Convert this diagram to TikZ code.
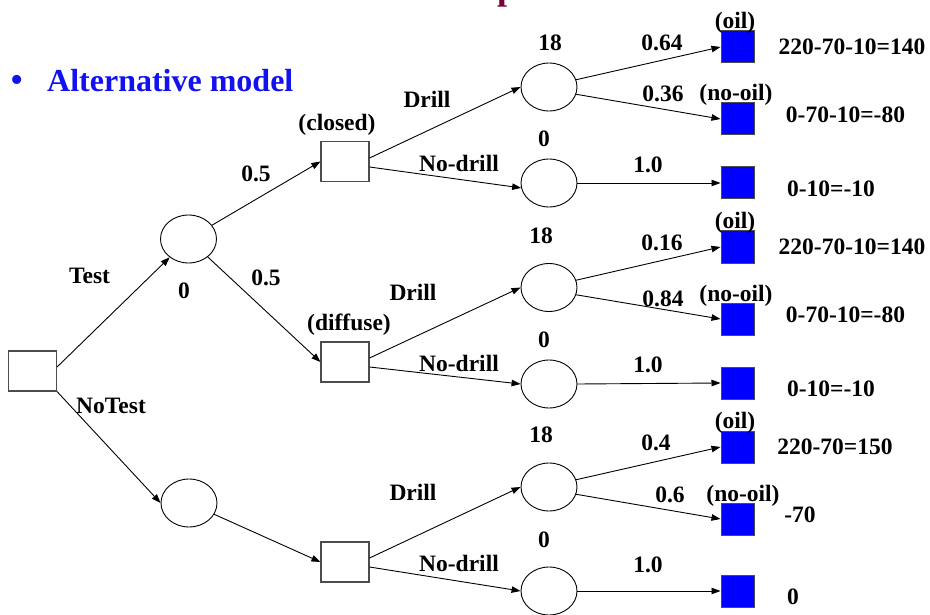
\documentclass[tikz,border=0pt]{standalone}
\usepackage{fontspec}
\setmainfont{Liberation Serif}
\usetikzlibrary{positioning, arrows.meta, shapes.geometric}

\definecolor{leafblue}{RGB}{0,0,255}
\definecolor{headblue}{RGB}{18,18,240}
\definecolor{headplum}{RGB}{120,0,60}

\begin{document}
\begin{tikzpicture}[
    x=1pt, y=-1pt,
    >={Triangle[length=9pt, width=6.5pt]},
    every node/.style={font=\fontsize{23.5}{26}\selectfont\bfseries, inner sep=0pt},
    decbox/.style={draw=black!70, line width=1.1pt, minimum width=48pt, minimum height=40pt},
    chance/.style={draw, ellipse, line width=0.9pt, minimum width=56pt, minimum height=48pt},
    leaf/.style={draw=black!70, line width=1pt, fill=leafblue, minimum width=33pt, minimum height=32pt},
    arr/.style={->, line width=0.9pt},
    head/.style={font=\fontsize{32}{36}\selectfont\bfseries, text=headblue},
]
\useasboundingbox (0,0) rectangle (930,615);

% ---- Heading ----
\node[font=\fontsize{36}{36}\selectfont\bfseries, text=headplum, anchor=base west] (heading) at (497,0) {p};
\node[head, font=\fontsize{38}{38}\selectfont, anchor=base west] (bullet) at (10,93) {\textbullet};
\node[head, anchor=base west] (model) at (47,92) {Alternative model};

% ---- Test / NoTest ----
\node[decbox] (root) at (32.5,371) {};
\node[chance] (test) at (188.5,239) {};
\node[chance] (notest) at (189,503) {};

\draw[arr] ([yshift=4pt]root.east) -- (test);
\draw[arr] (root.south east) -- (notest.west);

\node (ltest) at (89.5,276) {Test};
\node (lnotest) at (111,406) {NoTest};
\node (vtest) at (184,291) {0};

% ---- Survey result ----
\node[decbox] (closed) at (345,161.5) {};
\node[decbox] (diffuse) at (345,362) {};
\node[decbox] (direct) at (345,562) {};

\draw[arr] (test) -- (closed.west);
\draw[arr] (test) -- (diffuse.west);
\draw[arr] (notest) -- (direct.west);

\node (lclosed) at (337,125) {(closed)};
\node (ldiffuse) at (349,325) {(diffuse)};
\node (pclosed) at (256,174) {0.5};
\node (pdiffuse) at (266,278) {0.5};

% ---- Drill / No-drill ----
\node[chance] (drillA) at (549,87) {};
\node[chance] (stopA) at (549,183) {};
\node[chance] (drillB) at (549,287.5) {};
\node[chance] (stopB) at (549,384) {};
\node[chance] (drillC) at (549,487) {};
\node[chance] (stopC) at (549,591) {};

\draw[arr] ([yshift=3.5pt]closed.east) -- (drillA.west);
\draw[arr] ([yshift=-5.5pt]closed.east) -- (stopA.190);
\draw[arr] ([yshift=4pt]diffuse.east) -- (drillB.west);
\draw[arr] ([yshift=-5pt]diffuse.east) -- (stopB.west);
\draw[arr] ([yshift=4pt]direct.east) -- (drillC.west);
\draw[arr] ([yshift=-5pt]direct.east) -- (stopC.west);

\node (ldrillA) at (427,99) {Drill};
\node (lstopA) at (459,163) {No-drill};
\node (ldrillB) at (413,292) {Drill};
\node (lstopB) at (459,363) {No-drill};
\node (ldrillC) at (413,492) {Drill};
\node (lstopC) at (459,563) {No-drill};

\node (vdrillA) at (550,43) {18};
\node (vstopA) at (544,139) {0};
\node (vdrillB) at (541,236) {18};
\node (vstopB) at (544,340) {0};
\node (vdrillC) at (541,435) {18};
\node (vstopC) at (544,540) {0};

% ---- Outcomes ----
\node[leaf] (oilA) at (737.5,47) {};
\node[leaf] (dryA) at (737.5,119) {};
\node[leaf] (endA) at (737.5,183) {};
\node[leaf] (oilB) at (737.5,247) {};
\node[leaf] (dryB) at (737.5,319) {};
\node[leaf] (endB) at (737.5,383) {};
\node[leaf] (oilC) at (737.5,447) {};
\node[leaf] (dryC) at (737.5,519) {};
\node[leaf] (endC) at (737.5,591) {};

\draw[arr] (drillA.15) -- (oilA.west);
\draw[arr] (drillA.-15) -- (dryA.west);
\draw[arr] (stopA.east) -- (endA.west);
\draw[arr] (drillB.15) -- (oilB.west);
\draw[arr] (drillB.-15) -- (dryB.west);
\draw[arr] (stopB.east) -- (endB.west);
\draw[arr] (drillC.15) -- (oilC.west);
\draw[arr] (drillC.-15) -- (dryC.west);
\draw[arr] (stopC.east) -- (endC.west);

\node (loilA) at (735,23) {(oil)};
\node (ldryA) at (736,95) {(no-oil)};
\node (loilB) at (735,223) {(oil)};
\node (ldryB) at (736,296) {(no-oil)};
\node (loilC) at (735,423) {(oil)};
\node (ldryC) at (743,496) {(no-oil)};

\node (poilA) at (662,43) {0.64};
\node (pdryA) at (663,94) {0.36};
\node (pendA) at (648,165) {1.0};
\node (poilB) at (662,243) {0.16};
\node (pdryB) at (663,299) {0.84};
\node (pendB) at (648,365) {1.0};
\node (poilC) at (656,443) {0.4};
\node (pdryC) at (670,495) {0.6};
\node (pendC) at (648,565) {1.0};

% ---- Payoffs ----
\node (xoilA) at (852,47) {220-70-10=140};
\node (xdryA) at (845.5,115) {0-70-10=-80};
\node (xendA) at (831,189) {0-10=-10};
\node (xoilB) at (852,247) {220-70-10=140};
\node (xdryB) at (845.5,315) {0-70-10=-80};
\node (xendB) at (831,389) {0-10=-10};
\node (xoilC) at (835,447) {220-70=150};
\node (xdryC) at (800,515) {-70};
\node (xendC) at (793,597) {0};

\end{tikzpicture}
\end{document}
